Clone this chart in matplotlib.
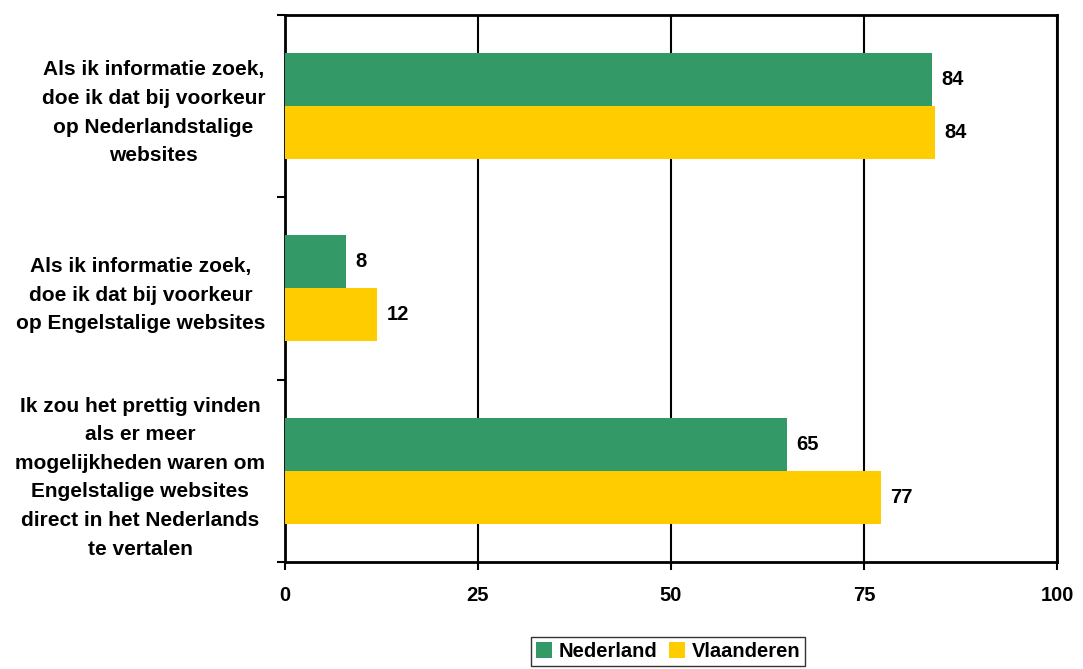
import matplotlib.pyplot as plt
import numpy as np

plt.rcParams['font.family'] = ['Liberation Sans', 'DejaVu Sans']
plt.rcParams['font.weight'] = 'bold'

categories = [
    "Als ik informatie zoek,\ndoe ik dat bij voorkeur\nop Nederlandstalige\nwebsites",
    "Als ik informatie zoek,\ndoe ik dat bij voorkeur\nop Engelstalige websites",
    "Ik zou het prettig vinden\nals er meer\nmogelijkheden waren om\nEngelstalige websites\ndirect in het Nederlands\nte vertalen",
]
nederland = [83.8, 7.9, 65.0]
vlaanderen = [84.2, 12.0, 77.2]
xticks = [0, 25, 50, 75, 100]

green = '#339966'
yellow = '#FFCC00'
fs = 14.5

fig = plt.figure(figsize=(10.83, 6.69), dpi=100)
ax = fig.add_axes([0.263, 0.160, 0.713, 0.818])

y = np.arange(len(categories))
h = 0.29
b1 = ax.barh(y - h / 2, nederland, height=h, color=green, label='Nederland', zorder=3)
b2 = ax.barh(y + h / 2, vlaanderen, height=h, color=yellow, label='Vlaanderen', zorder=3)

for bars, vals in [(b1, nederland), (b2, vlaanderen)]:
    for rect, v in zip(bars, vals):
        ax.text(v + 1.2, rect.get_y() + rect.get_height() / 2, f"{v:.0f}",
                va='center', ha='left', fontsize=fs, fontweight='bold')

ax.set_xlim(0, 100)
ax.set_ylim(2.5, -0.5)
ax.set_xticks(xticks)
ax.set_xticklabels([str(t) for t in xticks], fontsize=fs, fontweight='bold')
ax.set_yticks(y)
ax.set_yticklabels(categories, fontsize=15, fontweight='bold',
                   multialignment='center', linespacing=1.64)
ax.set_yticks([-0.5, 0.5, 1.5, 2.5], minor=True)
ax.tick_params(axis='y', which='major', length=0, pad=14)
ax.tick_params(axis='y', which='minor', length=6, width=1.5, direction='out')
ax.tick_params(axis='x', length=6, width=1.5, direction='out', pad=11)

ax.grid(axis='x', color='black', linewidth=1.5, zorder=1)
for s in ax.spines.values():
    s.set_color('black')
    s.set_linewidth(2)

fig.legend(loc='center', bbox_to_anchor=(0.617, 0.026), ncol=2, frameon=True,
           fancybox=False, edgecolor='black', handlelength=0.8,
           handleheight=0.8, handletextpad=0.3, columnspacing=0.6,
           borderpad=0.25, prop={'weight': 'bold', 'size': fs})

fig.savefig('out.png', dpi=100)
